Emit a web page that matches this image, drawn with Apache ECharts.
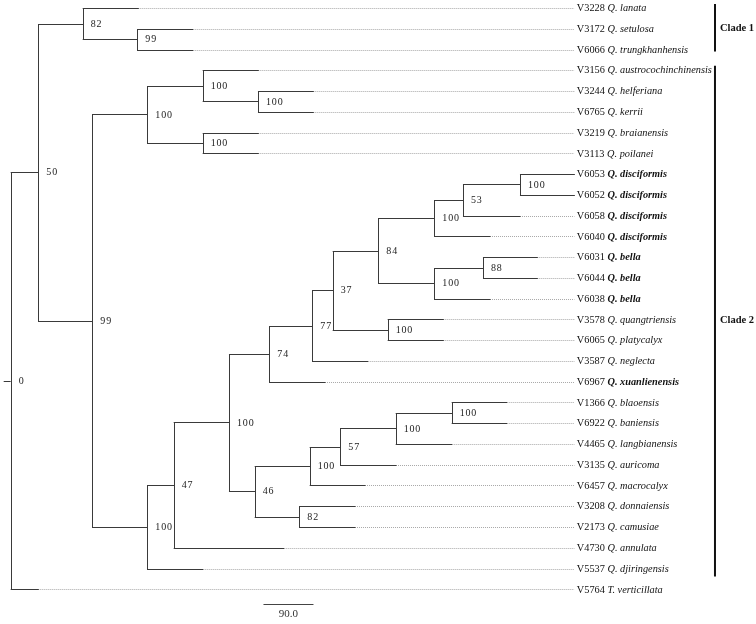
<!DOCTYPE html>
<html>
<head>
<meta charset="utf-8">
<script src="https://cdn.jsdelivr.net/npm/echarts@6/dist/echarts.min.js"></script>
<style>html,body{margin:0;padding:0;background:#fff}#c{width:756px;height:624px}</style>
</head>
<body>
<div id="c"></div>
<script>
// ---- Internal nodes: parent index, depth from root (branch-length units), bootstrap support
const nodeParent  = [-1, 0, 1, 2, 1, 4, 5, 6, 5, 4, 9, 10, 11, 12, 13, 14, 15, 16, 17, 15, 19, 14, 11, 22, 23, 24, 25, 22];
const nodeDepth   = [0, 49.7, 129.6, 227.9, 146.9, 245.9, 345.6, 445.1, 345.6, 245.9, 293.4, 392.9, 465.5, 542.9, 579.6, 661.7, 762.5, 814.1, 916.7, 762.5, 850.1, 678.6, 439.2, 538.2, 593.3, 693.0, 793.8, 519.5];
const nodeSupport = [0, 50, 82, 99, 99, 100, 100, 100, 100, 100, 47, 100, 74, 77, 37, 84, 100, 53, 100, 100, 88, 100, 46, 100, 57, 100, 100, 82];

// ---- Leaves (top to bottom)
const leafVoucher = ['V3228','V3172','V6066','V3156','V3244','V6765','V3219','V3113','V6053','V6052','V6058','V6040','V6031','V6044','V6038','V3578','V6065','V3587','V6967','V1366','V6922','V4465','V3135','V6457','V3208','V2173','V4730','V5537','V5764'];
const leafTaxon = ['Q. lanata','Q. setulosa','Q. trungkhanhensis','Q. austrocochinchinensis','Q. helferiana','Q. kerrii','Q. braianensis','Q. poilanei','Q. disciformis','Q. disciformis','Q. disciformis','Q. disciformis','Q. bella','Q. bella','Q. bella','Q. quangtriensis','Q. platycalyx','Q. neglecta','Q. xuanlienensis','Q. blaoensis','Q. baniensis','Q. langbianensis','Q. auricoma','Q. macrocalyx','Q. donnaiensis','Q. camusiae','Q. annulata','Q. djiringensis','T. verticillata'];
const leafParent = [2, 3, 3, 6, 7, 7, 8, 8, 18, 18, 17, 16, 20, 20, 19, 21, 21, 13, 12, 26, 26, 25, 24, 23, 27, 27, 10, 9, 0];
const leafDepth  = [229.7, 327.6, 327.6, 445.7, 544.7, 544.7, 445.7, 445.7, 1014.6, 1014.6, 916.7, 862.7, 947.9, 947.9, 862.7, 778.7, 778.7, 642.6, 565.7, 892.8, 892.8, 793.8, 693.5, 637.7, 619.7, 619.7, 491.4, 345.6, 49.7];
const highlightedTaxa = ['Q. disciformis', 'Q. bella', 'Q. xuanlienensis'];

// ---- Clades: name, first leaf, last leaf
const cladeNames = ['Clade 1', 'Clade 2'];
const cladeFirst = [0, 3];
const cladeLast  = [2, 27];

// ---- Scale bar
const scaleBarLength = 90;
const scaleBarLabel = '90.0';

// ===== layout computation (topology only) =====
const nNodes = nodeParent.length, nLeaves = leafVoucher.length;
const nodeKids = Array.from({length: nNodes}, () => []);
for (let i = 1; i < nNodes; i++) nodeKids[nodeParent[i]].push(['n', i]);
for (let i = 0; i < nLeaves; i++) nodeKids[leafParent[i]].push(['l', i]);
const nodeY = new Array(nNodes).fill(null);
function yOf(k) { return k[0] === 'l' ? k[1] : computeY(k[1]); }
function computeY(i) {
  if (nodeY[i] !== null) return nodeY[i];
  const ys = nodeKids[i].map(yOf);
  nodeY[i] = (Math.min(...ys) + Math.max(...ys)) / 2;
  return nodeY[i];
}
for (let i = 0; i < nNodes; i++) computeY(i);
const nodeSpan = nodeKids.map(ks => { const ys = ks.map(yOf); return [Math.min(...ys), Math.max(...ys)]; });

// segments: [x1, y1, x2, y2]
const branchSegs = [];
for (let i = 1; i < nNodes; i++) branchSegs.push([nodeDepth[nodeParent[i]], nodeY[i], nodeDepth[i], nodeY[i]]);
for (let i = 0; i < nLeaves; i++) branchSegs.push([nodeDepth[leafParent[i]], i, leafDepth[i], i]);
for (let i = 0; i < nNodes; i++) branchSegs.push([nodeDepth[i], nodeSpan[i][0], nodeDepth[i], nodeSpan[i][1]]);

const maxLeafDepth = Math.max(...leafDepth);
const leaderData = leafDepth.map((d, i) => [d, i, maxLeafDepth, i]);
const supportData = nodeSupport.map((s, i) => [nodeDepth[i], nodeY[i], s]);
const leafData = leafVoucher.map((v, i) => [maxLeafDepth, i, i]);

const SERIF = '"Liberation Serif", "DejaVu Serif", serif';

const chart = echarts.init(document.getElementById('c'));
chart.setOption({
  animation: false,
  backgroundColor: '#ffffff',
  grid: { left: 10.7, width: 700, top: 8, height: 581.3 },
  xAxis: { type: 'value', min: 0, max: 1260, show: false },
  yAxis: { type: 'value', min: 0, max: 28, inverse: true, show: false },
  series: [
    { // dotted leaders
      type: 'custom', clip: false, silent: true, data: leaderData,
      renderItem: (params, api) => {
        const a = api.coord([api.value(0), api.value(1)]);
        const b = api.coord([api.value(2), api.value(3)]);
        if (b[0] - a[0] < 1) return null;
        return { type: 'line', shape: { x1: a[0], y1: Math.round(a[1]) + 0.5, x2: b[0], y2: Math.round(b[1]) + 0.5 },
          style: { stroke: '#a8a8a8', lineWidth: 1, lineDash: [1, 1] } };
      }
    },
    { // branches
      type: 'custom', clip: false, silent: true, data: branchSegs,
      renderItem: (params, api) => {
        const a = api.coord([api.value(0), api.value(1)]);
        const b = api.coord([api.value(2), api.value(3)]);
        const horiz = Math.abs(a[1] - b[1]) < 0.01;
        const s = horiz
          ? { x1: a[0], y1: Math.round(a[1]) + 0.5, x2: b[0] + 0.5, y2: Math.round(b[1]) + 0.5 }
          : { x1: Math.round(a[0]) + 0.5, y1: Math.round(a[1]), x2: Math.round(b[0]) + 0.5, y2: Math.round(b[1]) + 1 };
        return { type: 'line', shape: s, style: { stroke: '#3a3a3a', lineWidth: 1 } };
      }
    },
    { // root stub
      type: 'custom', clip: false, silent: true, data: [[0, nodeY[0]]],
      renderItem: (params, api) => {
        const a = api.coord([api.value(0), api.value(1)]);
        return { type: 'line', shape: { x1: a[0] - 7, y1: Math.round(a[1]) + 0.5, x2: a[0], y2: Math.round(a[1]) + 0.5 },
          style: { stroke: '#3a3a3a', lineWidth: 1 } };
      }
    },
    { // support values
      type: 'custom', clip: false, silent: true, data: supportData,
      renderItem: (params, api) => {
        const a = api.coord([api.value(0), api.value(1)]);
        return { type: 'text', x: a[0] + 8, y: a[1] + 0.5,
          style: { text: String(api.value(2)).split('').join('\u200A'), fill: '#222', fontSize: 10, fontFamily: SERIF,
            align: 'left', verticalAlign: 'middle' } };
      }
    },
    { // leaf labels
      type: 'custom', clip: false, silent: true, data: leafData,
      renderItem: (params, api) => {
        const i = api.value(2);
        const a = api.coord([api.value(0), api.value(1)]);
        const hl = highlightedTaxa.indexOf(leafTaxon[i]) >= 0;
        return { type: 'text', x: a[0] + 2.5, y: a[1] + 0.5,
          style: {
            text: '{v|' + leafVoucher[i] + ' }{' + (hl ? 'b' : 'i') + '|' + leafTaxon[i] + '}',
            align: 'left', verticalAlign: 'middle',
            rich: {
              v: { fill: '#111', fontSize: 10.3, fontFamily: SERIF },
              i: { fill: '#111', fontSize: 10.3, fontFamily: SERIF, fontStyle: 'italic' },
              b: { fill: '#111', fontSize: 10.3, fontFamily: SERIF, fontStyle: 'italic', fontWeight: 'bold' }
            }
          } };
      }
    },
    { // clade bars and names
      type: 'custom', clip: false, silent: true,
      data: cladeNames.map((n, i) => [1267.7, cladeFirst[i], cladeLast[i], i]),
      renderItem: (params, api) => {
        const i = api.value(3);
        const top = api.coord([api.value(0), api.value(1)]);
        const bot = api.coord([api.value(0), api.value(2)]);
        const y1 = top[1] - (i === 0 ? 4 : 4.5), y2 = bot[1] + (i === 0 ? 2 : 8);
        return { type: 'group', children: [
          { type: 'line', shape: { x1: top[0], y1: y1, x2: top[0], y2: y2 }, style: { stroke: '#111', lineWidth: 2 } },
          { type: 'text', x: top[0] + 5, y: (top[1] + bot[1]) / 2 + (i === 0 ? 0 : 1),
            style: { text: cladeNames[i], fill: '#111', fontSize: 10.5, fontWeight: 'bold', fontFamily: SERIF,
              align: 'left', verticalAlign: 'middle' } }
        ] };
      }
    },
    { // scale bar
      type: 'custom', clip: false, silent: true, data: [[455, 28.71, 455 + scaleBarLength]],
      renderItem: (params, api) => {
        const a = api.coord([api.value(0), api.value(1)]);
        const b = api.coord([api.value(2), api.value(1)]);
        const y = Math.round(a[1]) + 0.5;
        return { type: 'group', children: [
          { type: 'line', shape: { x1: a[0], y1: y, x2: b[0], y2: y }, style: { stroke: '#444', lineWidth: 1 } },
          { type: 'text', x: (a[0] + b[0]) / 2, y: y + 10,
            style: { text: scaleBarLabel, fill: '#333', fontSize: 11, fontFamily: SERIF, align: 'center', verticalAlign: 'middle' } }
        ] };
      }
    }
  ]
});
</script>
</body>
</html>
